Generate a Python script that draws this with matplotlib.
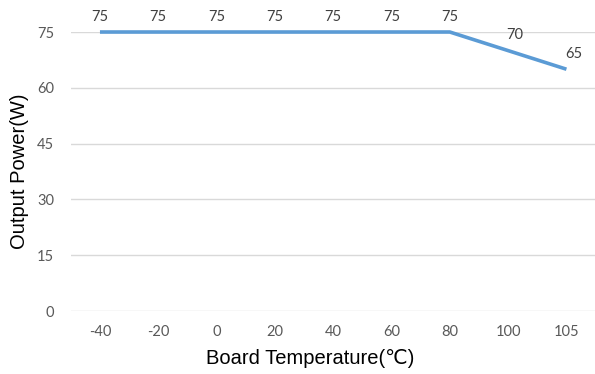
import matplotlib.pyplot as plt

# Derating curve data
temps = ["-40", "-20", "0", "20", "40", "60", "80", "100", "105"]
power = [75, 75, 75, 75, 75, 75, 75, 70, 65]
y_ticks = [0, 15, 30, 45, 60, 75]

fig = plt.figure(figsize=(5.95, 3.74), dpi=100)
ax = fig.add_axes([0.119, 0.1684, 0.882, 0.746])

x = list(range(len(temps)))
ax.plot(x, power, color="#5B9BD5", linewidth=2.6, solid_capstyle="butt", clip_on=False, zorder=3)

# data labels
for xi, val in zip(x, power):
    ax.annotate(str(val), (xi, val), xytext=(5 if val < 75 else 0, 6),
                textcoords="offset points", ha="center", va="bottom",
                fontsize=10.5, color="#404040", family="Lato", annotation_clip=False)

ax.set_xlim(-0.5, len(temps) - 0.5)
ax.set_ylim(0, 75)
ax.set_xticks(x)
ax.set_xticklabels(temps)
ax.set_yticks(y_ticks)

for t in ax.get_xticklabels() + ax.get_yticklabels():
    t.set_family("Lato")
    t.set_fontsize(10.5)
    t.set_color("#595959")

ax.tick_params(length=0, pad=10)
ax.tick_params(axis="y", pad=12)
ax.grid(axis="y", color="#D9D9D9", linewidth=1)
ax.set_axisbelow(True)
for s in ax.spines.values():
    s.set_visible(False)

ax.set_xlabel("Board Temperature(℃)", fontsize=14.5, family=["Liberation Sans", "DejaVu Sans"])
ax.xaxis.set_label_coords(0.456, -0.135)
ax.set_ylabel("Output Power(W)", fontsize=14.5, family="Liberation Sans", labelpad=6)

fig.savefig("out.png", dpi=100)
